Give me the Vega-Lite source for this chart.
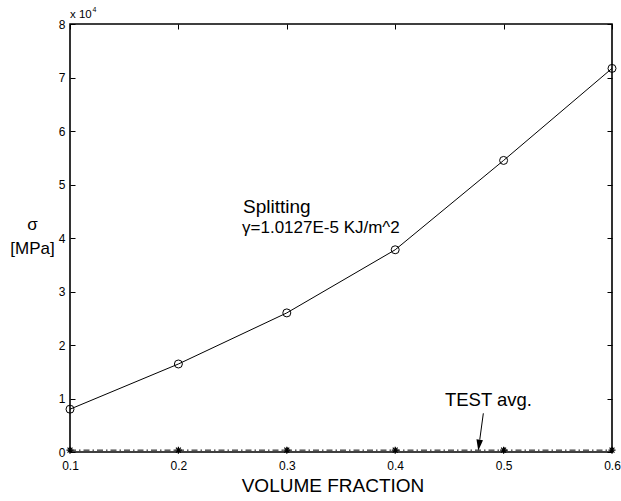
{
  "$schema": "https://vega.github.io/schema/vega-lite/v6.json",
  "width": 542,
  "height": 428,
  "autosize": {"type": "none"},
  "padding": {"left": 70, "top": 24, "right": 9, "bottom": 49},
  "background": "white",
  "datasets": {
    "split": [
      {"vf": 0.1, "sigma": 8000},
      {"vf": 0.2, "sigma": 16450},
      {"vf": 0.3, "sigma": 26000},
      {"vf": 0.4, "sigma": 37800},
      {"vf": 0.5, "sigma": 54500},
      {"vf": 0.6, "sigma": 71700}
    ],
    "test": [
      {"vf": 0.1, "sigma": 350},
      {"vf": 0.2, "sigma": 350},
      {"vf": 0.3, "sigma": 350},
      {"vf": 0.4, "sigma": 350},
      {"vf": 0.5, "sigma": 350},
      {"vf": 0.6, "sigma": 350}
    ],
    "arrow": [
      {"vf": 0.4813, "sigma": 7234},
      {"vf": 0.4780, "sigma": 2299}
    ],
    "head": [{"vf": 0.4773, "sigma": 1271}],
    "t19": [{"vf": 0.2596, "sigma": 44729, "label": "Splitting"}],
    "t18": [{"vf": 0.4459, "sigma": 8600, "label": "TEST avg."}],
    "t17": [{"vf": 0.2587, "sigma": 40991, "label": "γ=1.0127E-5 KJ/m^2"}],
    "t11": [{"vf": 0.1, "sigma": 81065, "label": "x 10"}],
    "t7": [{"vf": 0.1208, "sigma": 82243, "label": "4"}]
  },
  "layer": [
    {
      "data": {"name": "split"},
      "mark": {"type": "line", "color": "black", "strokeWidth": 1},
      "encoding": {
        "x": {
          "field": "vf", "type": "quantitative",
          "scale": {"domain": [0.1, 0.6], "nice": false, "zero": false},
          "axis": {
            "orient": "bottom", "values": [0.1, 0.2, 0.3, 0.4, 0.5, 0.6], "format": ".1f",
            "domain": false, "grid": false, "tickSize": -5, "tickColor": "black", "tickWidth": 1,
            "labelFlush": false, "labelOverlap": false,
            "labelPadding": 13, "labelFontSize": 12, "labelColor": "black",
            "title": "VOLUME FRACTION", "titleFontSize": 19, "titleFontWeight": "normal", "titleColor": "black",
            "titleX": 262.5, "titleY": 39, "titleBaseline": "alphabetic", "titleAnchor": null, "titleAlign": "center"
          }
        },
        "y": {
          "field": "sigma", "type": "quantitative",
          "scale": {"domain": [0, 80000], "nice": false},
          "axis": {
            "orient": "left", "values": [0, 10000, 20000, 30000, 40000, 50000, 60000, 70000, 80000],
            "labelExpr": "datum.value / 10000",
            "domain": false, "grid": false, "tickSize": -5, "tickColor": "black", "tickWidth": 1,
            "labelFlush": false, "labelOverlap": false,
            "labelPadding": 10, "labelFontSize": 12, "labelColor": "black",
            "title": ["σ", "[MPa]"], "titleFontSize": 17, "titleFontWeight": "normal", "titleColor": "black",
            "titleAngle": 0, "titleX": -38, "titleY": 205, "titleBaseline": "alphabetic", "titleAlign": "center",
            "titleLineHeight": 24, "titleAnchor": null
          }
        }
      }
    },
    {
      "data": {"name": "split"},
      "mark": {"type": "point", "shape": "circle", "filled": false, "color": "black", "strokeWidth": 1, "size": 64, "opacity": 1},
      "encoding": {
        "x": {"field": "vf", "type": "quantitative", "axis": null},
        "y": {"field": "sigma", "type": "quantitative", "axis": null}
      }
    },
    {
      "data": {"name": "test"},
      "mark": {"type": "line", "color": "black", "strokeWidth": 1, "strokeDash": [6, 3, 1.5, 3]},
      "encoding": {
        "x": {"field": "vf", "type": "quantitative", "axis": null},
        "y": {"field": "sigma", "type": "quantitative", "axis": null}
      }
    },
    {
      "data": {"name": "test"},
      "mark": {"type": "point", "shape": "M-1,0L1,0M0,-1L0,1M-0.7,-0.7L0.7,0.7M-0.7,0.7L0.7,-0.7", "filled": false, "color": "black", "strokeWidth": 1.2, "size": 49, "opacity": 1},
      "encoding": {
        "x": {"field": "vf", "type": "quantitative", "axis": null},
        "y": {"field": "sigma", "type": "quantitative", "axis": null}
      }
    },
    {
      "data": {"name": "arrow"},
      "mark": {"type": "line", "color": "black", "strokeWidth": 1},
      "encoding": {
        "x": {"field": "vf", "type": "quantitative", "axis": null},
        "y": {"field": "sigma", "type": "quantitative", "axis": null}
      }
    },
    {
      "data": {"name": "head"},
      "mark": {"type": "point", "shape": "M-0.6,-1L0.6,-1L0,1Z", "filled": true, "color": "black", "size": 121, "angle": 7.6, "opacity": 1},
      "encoding": {
        "x": {"field": "vf", "type": "quantitative", "axis": null},
        "y": {"field": "sigma", "type": "quantitative", "axis": null}
      }
    },
    {
      "data": {"name": "t19"},
      "mark": {"type": "text", "align": "left", "baseline": "alphabetic", "fontSize": 19, "color": "black"},
      "encoding": {
        "x": {"field": "vf", "type": "quantitative", "axis": null},
        "y": {"field": "sigma", "type": "quantitative", "axis": null},
        "text": {"field": "label"}
      }
    },
    {
      "data": {"name": "t18"},
      "mark": {"type": "text", "align": "left", "baseline": "alphabetic", "fontSize": 18.5, "color": "black"},
      "encoding": {
        "x": {"field": "vf", "type": "quantitative", "axis": null},
        "y": {"field": "sigma", "type": "quantitative", "axis": null},
        "text": {"field": "label"}
      }
    },
    {
      "data": {"name": "t17"},
      "mark": {"type": "text", "align": "left", "baseline": "alphabetic", "fontSize": 17, "color": "black"},
      "encoding": {
        "x": {"field": "vf", "type": "quantitative", "axis": null},
        "y": {"field": "sigma", "type": "quantitative", "axis": null},
        "text": {"field": "label"}
      }
    },
    {
      "data": {"name": "t11"},
      "mark": {"type": "text", "align": "left", "baseline": "alphabetic", "fontSize": 11.5, "color": "black"},
      "encoding": {
        "x": {"field": "vf", "type": "quantitative", "axis": null},
        "y": {"field": "sigma", "type": "quantitative", "axis": null},
        "text": {"field": "label"}
      }
    },
    {
      "data": {"name": "t7"},
      "mark": {"type": "text", "align": "left", "baseline": "alphabetic", "fontSize": 7, "color": "black"},
      "encoding": {
        "x": {"field": "vf", "type": "quantitative", "axis": null},
        "y": {"field": "sigma", "type": "quantitative", "axis": null},
        "text": {"field": "label"}
      }
    },
    {
      "data": {"name": "split"},
      "mark": {"type": "point", "opacity": 0},
      "encoding": {
        "x": {
          "field": "vf", "type": "quantitative",
          "axis": {"orient": "top", "values": [0.1, 0.2, 0.3, 0.4, 0.5, 0.6], "labels": false, "domain": false, "grid": false, "tickSize": -5, "tickColor": "black", "tickWidth": 1, "title": null}
        },
        "y": {
          "field": "sigma", "type": "quantitative",
          "axis": {"orient": "right", "values": [0, 10000, 20000, 30000, 40000, 50000, 60000, 70000, 80000], "labels": false, "domain": false, "grid": false, "tickSize": -5, "tickColor": "black", "tickWidth": 1, "title": null}
        }
      }
    }
  ],
  "resolve": {"axis": {"x": "independent", "y": "independent"}},
  "config": {
    "font": "Liberation Sans",
    "view": {"stroke": "black", "strokeWidth": 1.6},
    "axis": {"labelFont": "Liberation Sans", "titleFont": "Liberation Sans"}
  }
}
